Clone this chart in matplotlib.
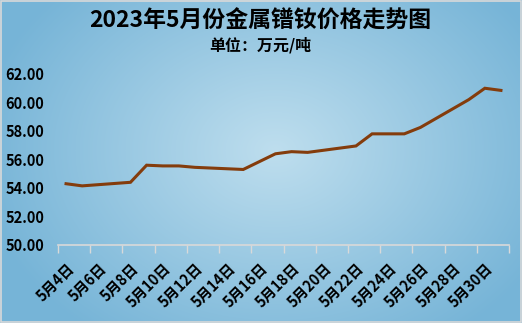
import numpy as np
import matplotlib
matplotlib.use("Agg")
import matplotlib.pyplot as plt
from matplotlib.patches import Rectangle

plt.rcParams['font.family'] = ['Noto Sans CJK SC', 'DejaVu Sans']

# May 2023 trading days and price (10k yuan / ton)
days = [4, 5, 8, 9, 10, 11, 12, 15, 16, 17, 18, 19, 22, 23, 24, 25, 26, 29, 30, 31]
prices = [54.3, 54.15, 54.4, 55.6, 55.55, 55.55, 55.45, 55.3, 55.85, 56.4,
          56.55, 56.5, 56.95, 57.8, 57.8, 57.8, 58.25, 60.2, 61.0, 60.85]
label_days = [4, 6, 8, 10, 12, 14, 16, 18, 20, 22, 24, 26, 28, 30]
tick_labels = ["5月%d日" % d for d in label_days]
yticks = [50, 52, 54, 56, 58, 60, 62]

W, H = 522, 323
fig = plt.figure(figsize=(W / 100, H / 100), dpi=100)

# radial gradient background
bg = fig.add_axes([0, 0, 1, 1], zorder=-10)
yy, xx = np.mgrid[0:H, 0:W]
r = np.sqrt(((xx - 275) / 300.0) ** 2 + ((yy - 150) / 230.0) ** 2)
r = np.clip(r, 0, 1)[..., None]
c_in = np.array([190, 222, 238]) / 255
c_out = np.array([118, 180, 215]) / 255
img = c_in * (1 - r) + c_out * r
bg.imshow(img, extent=[0, W, H, 0], aspect='auto')
bg.add_patch(Rectangle((0.5, 0.5), W - 1.5, H - 1.5, fill=False, ec='#d9d9d9', lw=1.2))
bg.set_xlim(0, W)
bg.set_ylim(H, 0)
bg.axis('off')

ax = fig.add_axes([58 / W, 1 - 245 / H, (509 - 58) / W, (245 - 74) / H])
ax.patch.set_alpha(0)
ax.plot(days, prices, color='#843C0C', lw=2.2, solid_joinstyle='miter')

ax.set_xlim(3.5, 31.5)
ax.set_ylim(50, 62)
ax.set_xticks(np.arange(3.5, 32, 2))
ax.set_xticklabels([])
ax.set_xticks(label_days, minor=True)
ax.set_xticklabels(tick_labels, minor=True, rotation=45, ha='right', va='top',
                   rotation_mode='anchor', fontsize=10.5, fontweight='bold')
ax.tick_params(axis='x', which='major', length=6, width=1, color='#d9d9d9', direction='out')
ax.tick_params(axis='x', which='minor', length=0, pad=11)

ax.set_yticks(yticks)
ax.set_yticklabels(["%.2f" % v for v in yticks], fontsize=10.5, fontweight='bold')
ax.tick_params(axis='y', length=0, pad=10)

for s in ['top', 'right', 'left']:
    ax.spines[s].set_visible(False)
ax.spines['bottom'].set_color('#d9d9d9')
ax.spines['bottom'].set_linewidth(1.2)

fig.text(260 / W, 1 - 21 / H, "2023年5月份金属镨钕价格走势图", ha='center', va='center',
         fontsize=16.5, fontweight='bold')
fig.text(260 / W, 1 - 45 / H, "单位：万元/吨", ha='center', va='center',
         fontsize=11.5, fontweight='bold')

fig.savefig("out.png", dpi=100)
